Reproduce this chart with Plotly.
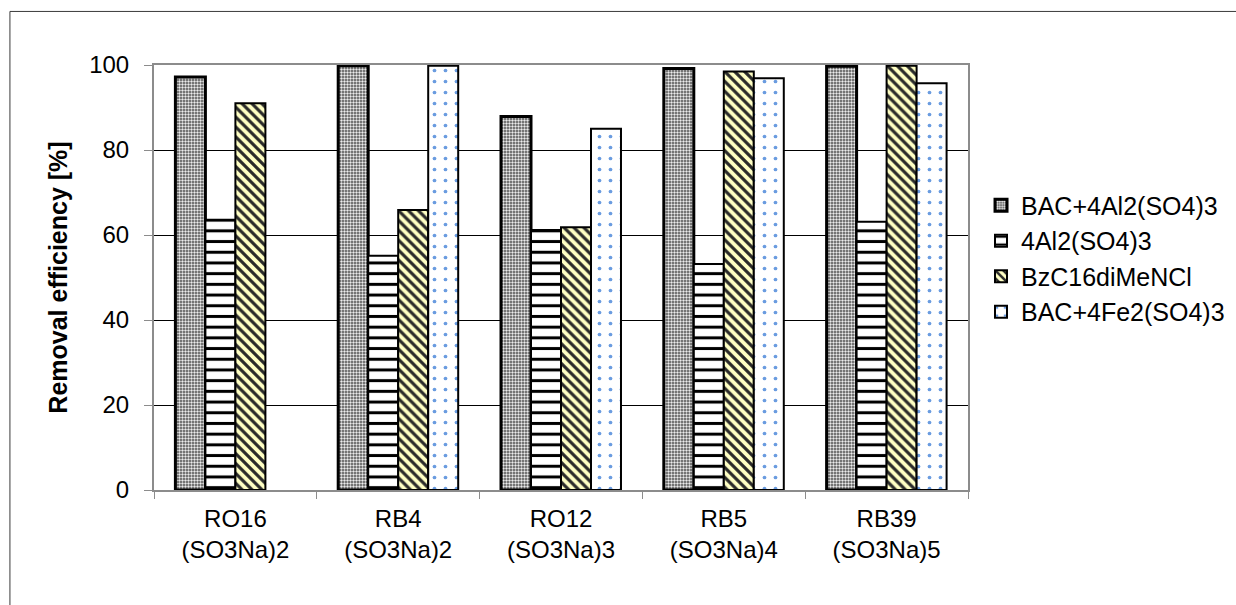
import plotly.graph_objects as go

# Dyes (first line) and number of sulfonate groups (second line)
dyes = ["RO16", "RB4", "RO12", "RB5", "RB39"]
groups = ["(SO3Na)2", "(SO3Na)2", "(SO3Na)3", "(SO3Na)4", "(SO3Na)5"]
categories = [f"{d}<br>{g}" for d, g in zip(dyes, groups)]

# Removal efficiency [%] for each coagulant system
bac_al = [97.2, 99.8, 87.9, 99.2, 99.7]
al_only = [63.6, 55.1, 61.2, 53.2, 63.1]
bzc = [91.0, 65.9, 61.8, 98.5, 99.8]
bac_fe = [None, 99.8, 85.0, 96.9, 95.7]

FONT = "Arial, 'Liberation Sans', sans-serif"

series = [
    ("BAC+4Al2(SO4)3", bac_al,
     dict(shape=".", fgcolor="#ececec", bgcolor="#4d4d4d", size=3, solidity=0.5), 3),
    ("4Al2(SO4)3", al_only,
     dict(shape="-", fgcolor="#000000", bgcolor="#ffffff", size=10.7, solidity=0.28), 2),
    ("BzC16diMeNCl", bzc,
     dict(shape="\\", fgcolor="#2a2a2a", bgcolor="#ffffc4", size=7, solidity=0.45), 2),
    ("BAC+4Fe2(SO4)3", bac_fe,
     dict(shape=".", fgcolor="#6a9ce0", bgcolor="#ffffff", size=11, solidity=0.09), 2),
]

fig = go.Figure()
for name, vals, pat, lw in series:
    fig.add_trace(go.Bar(
        name=name, x=categories, y=vals,
        marker=dict(color=pat["bgcolor"], pattern=dict(fillmode="replace", **pat),
                    line=dict(color="#000000", width=lw)),
    ))

fig.update_layout(
    width=1236, height=605,
    margin=dict(l=154, r=268, t=65, b=115, autoexpand=False),
    paper_bgcolor="white", plot_bgcolor="white",
    font=dict(family=FONT, size=24, color="#000000"),
    barmode="group", bargap=0.263, bargroupgap=0,
    showlegend=True,
    legend=dict(x=1.016, y=0.545, xanchor="left", yanchor="middle",
                font=dict(size=25), traceorder="normal",
                itemwidth=30, bgcolor="rgba(0,0,0,0)"),
    shapes=[
        # outer chart frame
        dict(type="rect", xref="paper", yref="paper",
             x0=-0.177, x1=1.6, y0=-0.5, y1=1.126,
             line=dict(color="#3a3a3a", width=1), fillcolor="rgba(0,0,0,0)", layer="below"),
    ],
)

fig.update_yaxes(
    range=[0, 100], tickvals=[0, 20, 40, 60, 80, 100],
    showgrid=True, gridcolor="#000000", gridwidth=1,
    showline=True, linecolor="#8c8c8c", linewidth=2, mirror=True,
    ticks="outside", ticklen=8, tickcolor="#8c8c8c", tickwidth=1,
    ticklabelstandoff=10,
    zeroline=False,
    title=dict(text="<b>Removal efficiency [%]</b>", font=dict(size=25), standoff=14),
)
fig.update_xaxes(
    showline=True, linecolor="#8c8c8c", linewidth=2, mirror=True,
    ticks="outside", ticklen=7, tickcolor="#8c8c8c", tickson="boundaries",
    ticklabelstandoff=6,
    showgrid=False,
)

fig.write_html("out.html")
